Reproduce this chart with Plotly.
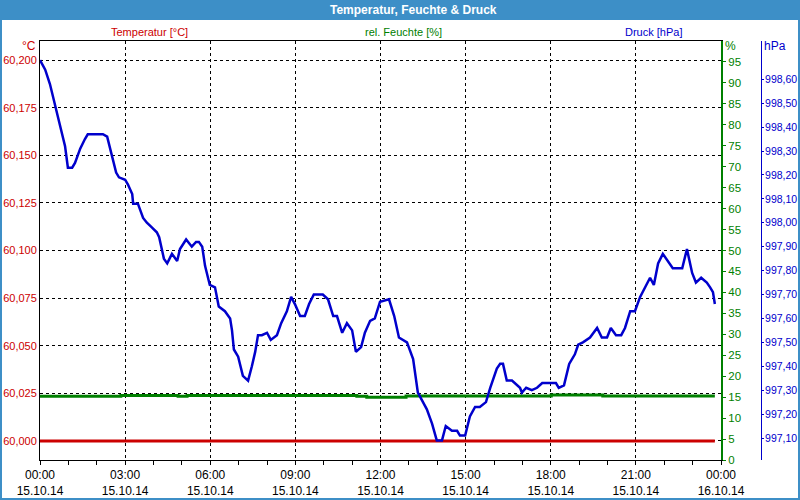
import plotly.graph_objects as go

DAY = "2014-10-15 "

# Pressure (hPa)
press_time = ["00:00","00:11","00:21","00:32","00:42","00:53","00:59","01:08","01:14","01:25","01:35","01:41",
              "02:07","02:13","02:22","02:28","02:34","02:41","02:47","03:00","03:06","03:15","03:17","03:27",
              "03:38","03:46","03:57","04:07","04:12","04:18","04:22","04:29","04:39","04:50","04:56","05:09",
              "05:21","05:30","05:36","05:43","05:49","05:59","06:10","06:18","06:31","06:42","06:46","06:50",
              "06:59","07:09","07:20","07:28","07:35","07:41","07:49","08:00","08:08","08:21","08:30","08:42",
              "08:51","08:59","09:10","09:20","09:29","09:39","09:58","10:09","10:20","10:28","10:39","10:49",
              "11:00","11:08","11:19","11:27","11:38","11:48","11:59","12:18","12:29","12:39","12:56","13:09",
              "13:19","13:38","13:49","13:59","14:10","14:18","14:31","14:42","14:48","14:59","15:09","15:20",
              "15:30","15:43","15:52","16:06","16:13","16:19","16:27","16:38","16:55","16:59","17:08","17:20",
              "17:31","17:42","17:58","18:11","18:17","18:28","18:39","18:51","18:58","19:08","19:23","19:38",
              "19:48","19:59","20:07","20:18","20:29","20:37","20:48","20:58","21:09","21:19","21:30","21:38",
              "21:47","21:57","22:08","22:18","22:38","22:48","22:59","23:07","23:18","23:30","23:37","23:43",
              "23:47"]
press_val = [998.68,998.64,998.58,998.49,998.40,998.32,998.23,998.23,998.25,998.31,998.35,998.37,
             998.37,998.37,998.36,998.31,998.26,998.21,998.19,998.18,998.16,998.12,998.08,998.08,
             998.02,998.00,997.98,997.96,997.94,997.89,997.85,997.83,997.87,997.84,997.89,997.93,
             997.90,997.92,997.92,997.90,997.82,997.74,997.73,997.65,997.63,997.60,997.55,997.47,
             997.44,997.36,997.34,997.40,997.46,997.53,997.53,997.54,997.51,997.53,997.58,997.63,
             997.69,997.66,997.61,997.61,997.66,997.70,997.70,997.68,997.61,997.61,997.54,997.58,
             997.55,997.46,997.48,997.54,997.59,997.60,997.67,997.68,997.61,997.52,997.50,997.43,
             997.29,997.22,997.16,997.09,997.09,997.15,997.13,997.13,997.11,997.11,997.19,997.23,
             997.23,997.25,997.31,997.39,997.41,997.41,997.34,997.34,997.31,997.29,997.31,997.30,
             997.31,997.33,997.33,997.33,997.31,997.32,997.41,997.45,997.49,997.50,997.52,997.56,
             997.52,997.52,997.56,997.53,997.53,997.56,997.63,997.63,997.69,997.73,997.77,997.74,
             997.83,997.87,997.84,997.81,997.81,997.89,997.79,997.75,997.77,997.75,997.73,997.71,
             997.66]

# Relative humidity (%)
hum_time = ["00:00","02:51","04:52","05:11","11:10","11:31","12:54","18:01","19:50","23:47"]
hum_val = [15.2,15.4,15.2,15.4,15.2,15.0,15.3,15.5,15.3,15.3]

# Temperature (°C)
temp_time = ["00:00","23:47"]
temp_val = [60.000,60.000]

x_tick_vals = ["2014-10-15 00:00","2014-10-15 03:00","2014-10-15 06:00","2014-10-15 09:00",
               "2014-10-15 12:00","2014-10-15 15:00","2014-10-15 18:00","2014-10-15 21:00",
               "2014-10-16 00:00"]
x_tick_text = ["00:00<br>15.10.14","03:00<br>15.10.14","06:00<br>15.10.14","09:00<br>15.10.14",
               "12:00<br>15.10.14","15:00<br>15.10.14","18:00<br>15.10.14","21:00<br>15.10.14",
               "00:00<br>16.10.14"]
temp_ticks = [60.000,60.025,60.050,60.075,60.100,60.125,60.150,60.175,60.200]
hum_ticks = list(range(0, 100, 5))
press_ticks = [997.1,997.2,997.3,997.4,997.5,997.6,997.7,997.8,997.9,998.0,998.1,998.2,998.3,998.4,998.5,998.6]

RED = "#cc0000"
GREEN = "#008000"
BLUE = "#0000cc"
BAR = "#3d8fc7"
FONT = "Liberation Sans, Arial, sans-serif"

fig = go.Figure()
fig.add_trace(go.Scatter(x=[DAY + t for t in temp_time], y=temp_val, mode="lines",
                         line=dict(color=RED, width=3), yaxis="y", name="Temperatur"))
fig.add_trace(go.Scatter(x=[DAY + t for t in hum_time], y=hum_val, mode="lines",
                         line=dict(color=GREEN, width=3, shape="hv"), yaxis="y2", name="Feuchte"))
fig.add_trace(go.Scatter(x=[DAY + t for t in press_time], y=press_val, mode="lines",
                         line=dict(color=BLUE, width=2.5), yaxis="y3", name="Druck"))

L, R, T, B = 40, 39, 41, 40
PW = 800 - L - R
PH = 500 - T - B
def px(x):
    return (x - L) / PW
def py(y):
    return (500 - B - y) / PH

fig.update_layout(
    width=800, height=500,
    margin=dict(l=L, r=R, t=T, b=B, pad=0, autoexpand=False),
    paper_bgcolor="white", plot_bgcolor="white",
    separators=",.",
    showlegend=False,
    font=dict(family=FONT, size=12, color="black"),
    xaxis=dict(
        type="date", domain=[0, 681 / PW], automargin=False,
        range=["2014-10-15 00:00", "2014-10-16 00:00"],
        tickmode="array", tickvals=x_tick_vals, ticktext=x_tick_text,
        ticks="outside", ticklen=4, tickcolor="black",
        showline=True, linecolor="black", linewidth=1, mirror=True,
        showgrid=True, gridcolor="black", griddash="3px,3px", gridwidth=1,
        zeroline=False,
        tickfont=dict(size=12, color="black"),
        minor=dict(dtick=3600000, tick0="2014-10-15 00:00", ticks="outside", ticklen=4,
                   tickcolor="black", showgrid=False),
    ),
    yaxis=dict(
        range=[59.99, 60.21], tickmode="array", tickvals=temp_ticks, tickformat=".3f",
        ticks="", showline=True, linecolor="black", linewidth=1, automargin=False,
        showgrid=True, gridcolor="black", griddash="3px,3px", gridwidth=1,
        zeroline=False, tickfont=dict(size=11, color=RED),
    ),
    yaxis2=dict(
        overlaying="y", side="right", anchor="x", automargin=False,
        range=[0, 100], tickmode="array", tickvals=hum_ticks,
        ticks="outside", ticklen=3, tickcolor=GREEN,
        showline=True, linecolor=GREEN, linewidth=2,
        showgrid=False, zeroline=False, tickfont=dict(size=11.5, color=GREEN),
    ),
    yaxis3=dict(
        overlaying="y", side="right", anchor="free", position=1.0, automargin=False,
        range=[997.008, 998.76], tickmode="array", tickvals=press_ticks, tickformat=".2f",
        ticks="outside", ticklen=2, tickcolor=BLUE, ticklabelstandoff=-1,
        showline=True, linecolor=BLUE, linewidth=1,
        showgrid=False, zeroline=False, tickfont=dict(size=10.5, color=BLUE),
    ),
    shapes=[
        dict(type="rect", xref="paper", yref="paper", x0=px(0), x1=px(800), y0=py(20), y1=py(0),
             fillcolor=BAR, line=dict(width=0), layer="above"),
        dict(type="rect", xref="paper", yref="paper", x0=px(1), x1=px(799), y0=py(499), y1=py(1),
             fillcolor="rgba(0,0,0,0)", line=dict(color=BAR, width=2), layer="above"),
    ],
    annotations=[
        dict(text="<b>Temperatur, Feuchte & Druck</b>", x=px(413), y=py(10), xref="paper", yref="paper",
             showarrow=False, font=dict(size=12, color="white"), xanchor="center", yanchor="middle"),
        dict(text="Temperatur [°C]", x=px(149), y=py(32), xref="paper", yref="paper",
             showarrow=False, font=dict(size=11, color=RED), xanchor="center", yanchor="middle"),
        dict(text="rel. Feuchte [%]", x=px(403), y=py(32), xref="paper", yref="paper",
             showarrow=False, font=dict(size=11, color=GREEN), xanchor="center", yanchor="middle"),
        dict(text="Druck [hPa]", x=px(653), y=py(32), xref="paper", yref="paper",
             showarrow=False, font=dict(size=11, color=BLUE), xanchor="center", yanchor="middle"),
        dict(text="°C", x=px(38), y=py(46), xref="paper", yref="paper",
             showarrow=False, font=dict(size=12, color=RED), xanchor="right", yanchor="middle"),
        dict(text="%", x=px(723), y=py(46), xref="paper", yref="paper",
             showarrow=False, font=dict(size=12, color=GREEN), xanchor="left", yanchor="middle"),
        dict(text="hPa", x=px(762), y=py(46), xref="paper", yref="paper",
             showarrow=False, font=dict(size=12, color=BLUE), xanchor="left", yanchor="middle"),
    ],
)

fig.write_html("out.html")
